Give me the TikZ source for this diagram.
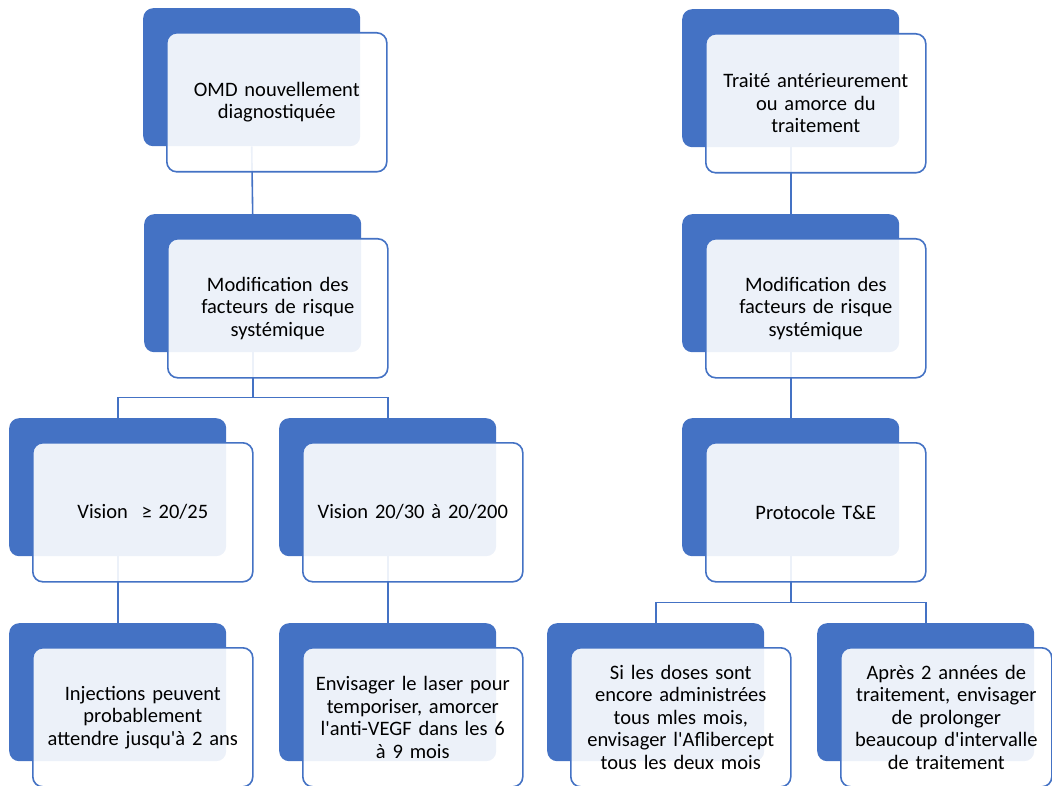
\documentclass[tikz,border=0pt]{standalone}
\usepackage{fontspec}
\setmainfont{Carlito}[Ligatures=TeXOff]
\usetikzlibrary{calc}
\definecolor{accent}{RGB}{68,114,196}
\pgfdeclarelayer{background}
\pgfsetlayers{background,main}
\tikzset{
  darkbox/.style={anchor=north west, fill=accent, draw=none, rounded corners=10pt,
    minimum width=217pt, minimum height=138pt, inner sep=0pt},
  frontbox/.style={anchor=north west, fill=white, fill opacity=0.9, text opacity=1,
    draw=accent, line width=1.6pt, rounded corners=10pt,
    minimum width=220pt, minimum height=139pt, inner sep=0pt,
    text width=216pt, align=center, font=\fontsize{20.5pt}{22.5pt}\selectfont},
  conn/.style={draw=accent, line width=1.6pt},
}
\newcommand\bloc[4]{%
  \node[darkbox] (#1) at (#2) {};
  \node[frontbox] (#1f) at ($(#1.north west)+(23pt,-24pt)$) {#3};
}
\begin{document}
\begin{tikzpicture}[x=1pt,y=-1pt]
\useasboundingbox (0,0) rectangle (1052,786);
\bloc{A}{143,8}{OMD nouvellement\\diagnostiquée}{}
\bloc{B}{144,214}{Modification des\\facteurs de risque\\systémique}{}
\bloc{C}{9,418}{Vision \ ≥ 20/25}{}
\bloc{D}{279,418}{Vision 20/30 à 20/200}{}
\bloc{E}{9,623}{Injections peuvent\\probablement\\attendre jusqu'à 2 ans}{}
\bloc{F}{279,623}{Envisager le laser pour\\temporiser, amorcer\\l'anti-VEGF dans les 6\\à 9 mois}{}
\bloc{G}{682,9}{Traité antérieurement\\ou amorce du\\traitement}{}
\bloc{H}{682,214}{Modification des\\facteurs de risque\\systémique}{}
\bloc{I}{682,418}{Protocole T\&E}{}
\bloc{J}{547,623}{Si les doses sont\\encore administrées\\tous mles mois,\\envisager l'Aflibercept\\tous les deux mois}{}
\node[darkbox] (K) at (817,623) {};
\node[frontbox, minimum width=211pt, text width=209pt] (Kf) at ($(K.north west)+(23pt,-24pt)$) {Après 2 années de\\traitement, envisager\\de prolonger\\beaucoup d'intervalle\\de traitement};
\begin{pgfonlayer}{background}
\draw[conn] (A.south) -- (B.north);
\draw[conn] (B.south) -- ++(0,45) coordinate (bj);
\draw[conn] (bj) -| (C.north);
\draw[conn] (bj) -| (D.north);
\draw[conn] (C.south) -- (E.north);
\draw[conn] (D.south) -- (F.north);
\draw[conn] (G.south) -- (H.north);
\draw[conn] (H.south) -- (I.north);
\draw[conn] (I.south) -- ++(0,46) coordinate (ij);
\draw[conn] (ij) -| (J.north);
\draw[conn] (ij) -| (K.north);
\end{pgfonlayer}
\end{tikzpicture}
\end{document}
